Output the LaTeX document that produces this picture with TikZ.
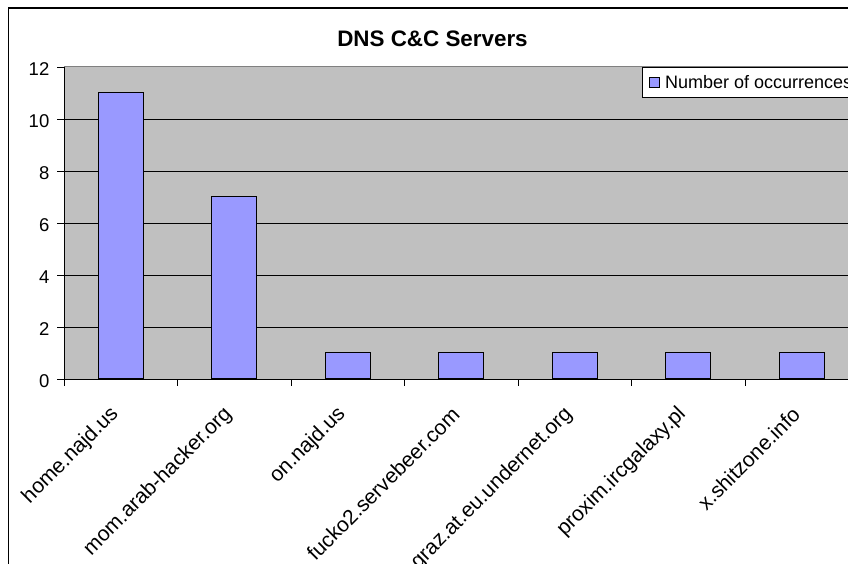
\documentclass[tikz,border=0pt]{standalone}
\usepackage{fontspec}
\setmainfont{Liberation Sans}
\definecolor{plotgray}{HTML}{C0C0C0}
\definecolor{plotedge}{HTML}{808080}
\definecolor{barblue}{HTML}{9999FF}
\tikzset{
  ticklabel/.style={font=\fontsize{18.5}{20}\selectfont, inner sep=0pt},
  catlabel/.style={font=\fontsize{21}{22}\selectfont, inner sep=0pt, rotate=45, anchor=east},
  barbox/.style={draw=black, line width=1.2pt, fill=barblue, inner sep=0pt, minimum width=45pt, anchor=south},
  gridline/.style={line width=0.9pt, black},
}
\begin{document}
\begin{tikzpicture}[x=1pt,y=-1pt]
\useasboundingbox (0,0) rectangle (848,564);
\clip (0,0) rectangle (848,564);
\fill[white] (0,0) rectangle (848,564);
% chart frame (continues past the right and bottom edges)
\draw[line width=1.5pt] (8.5,600) -- (8.5,8) -- (900,8);
% title
\node[font=\bfseries\fontsize{22.4}{24}\selectfont, anchor=base, inner sep=0pt] (title) at (432.5,47) {DNS C\&C Servers};
% plot area
\fill[plotgray] (64,67) rectangle (900,379);
\draw[plotedge, line width=1pt] (64,67) -- (900,67);
\foreach \v in {2,4,...,10}
  \draw[gridline] (64,379-26*\v) -- (900,379-26*\v);
% value axis with ticks and labels
\coordinate (origin) at (64,379);
\coordinate (ytop) at (64,67);
\coordinate (xend) at (900,379);
\draw[gridline] (ytop) -- (origin) -- (xend);
\foreach \v in {0,2,...,12} {
  \draw[gridline] (57,379-26*\v) -- (64,379-26*\v);
  \node[ticklabel, anchor=base east] (y\v) at (49.5,379-26*\v+8.5) {\v};
}
% category ticks
\foreach \k in {0,...,7}
  \draw[gridline] (64+113.5*\k,379) -- (64+113.5*\k,386);
% bars and category labels
\foreach \v/\name [count=\i from 0] in {
    11/home.najd.us,
    7/mom.arab-hacker.org,
    1/on.najd.us,
    1/fucko2.servebeer.com,
    1/graz.at.eu.undernet.org,
    1/proxim.ircgalaxy.pl,
    1/x.shitzone.info} {
  \node[barbox, minimum height=26*\v] (bar\i) at (64+113.5*\i+56.75,379) {};
  \node[catlabel] (cat\i) at (64+113.5*\i+56.75-5.5,411) {\name};
}
% legend
\node[draw=black, line width=1pt, fill=white, anchor=north west, minimum width=260pt, minimum height=30pt, inner sep=0pt] (legend) at (642,67) {};
\node[draw=black, line width=1pt, fill=barblue, minimum size=10pt, inner sep=0pt] (legmark) at (654,83) {};
\node[ticklabel, font=\fontsize{18}{20}\selectfont, anchor=base west] (legtext) at (665,88.5) {Number of occurrences};
\end{tikzpicture}
\end{document}
